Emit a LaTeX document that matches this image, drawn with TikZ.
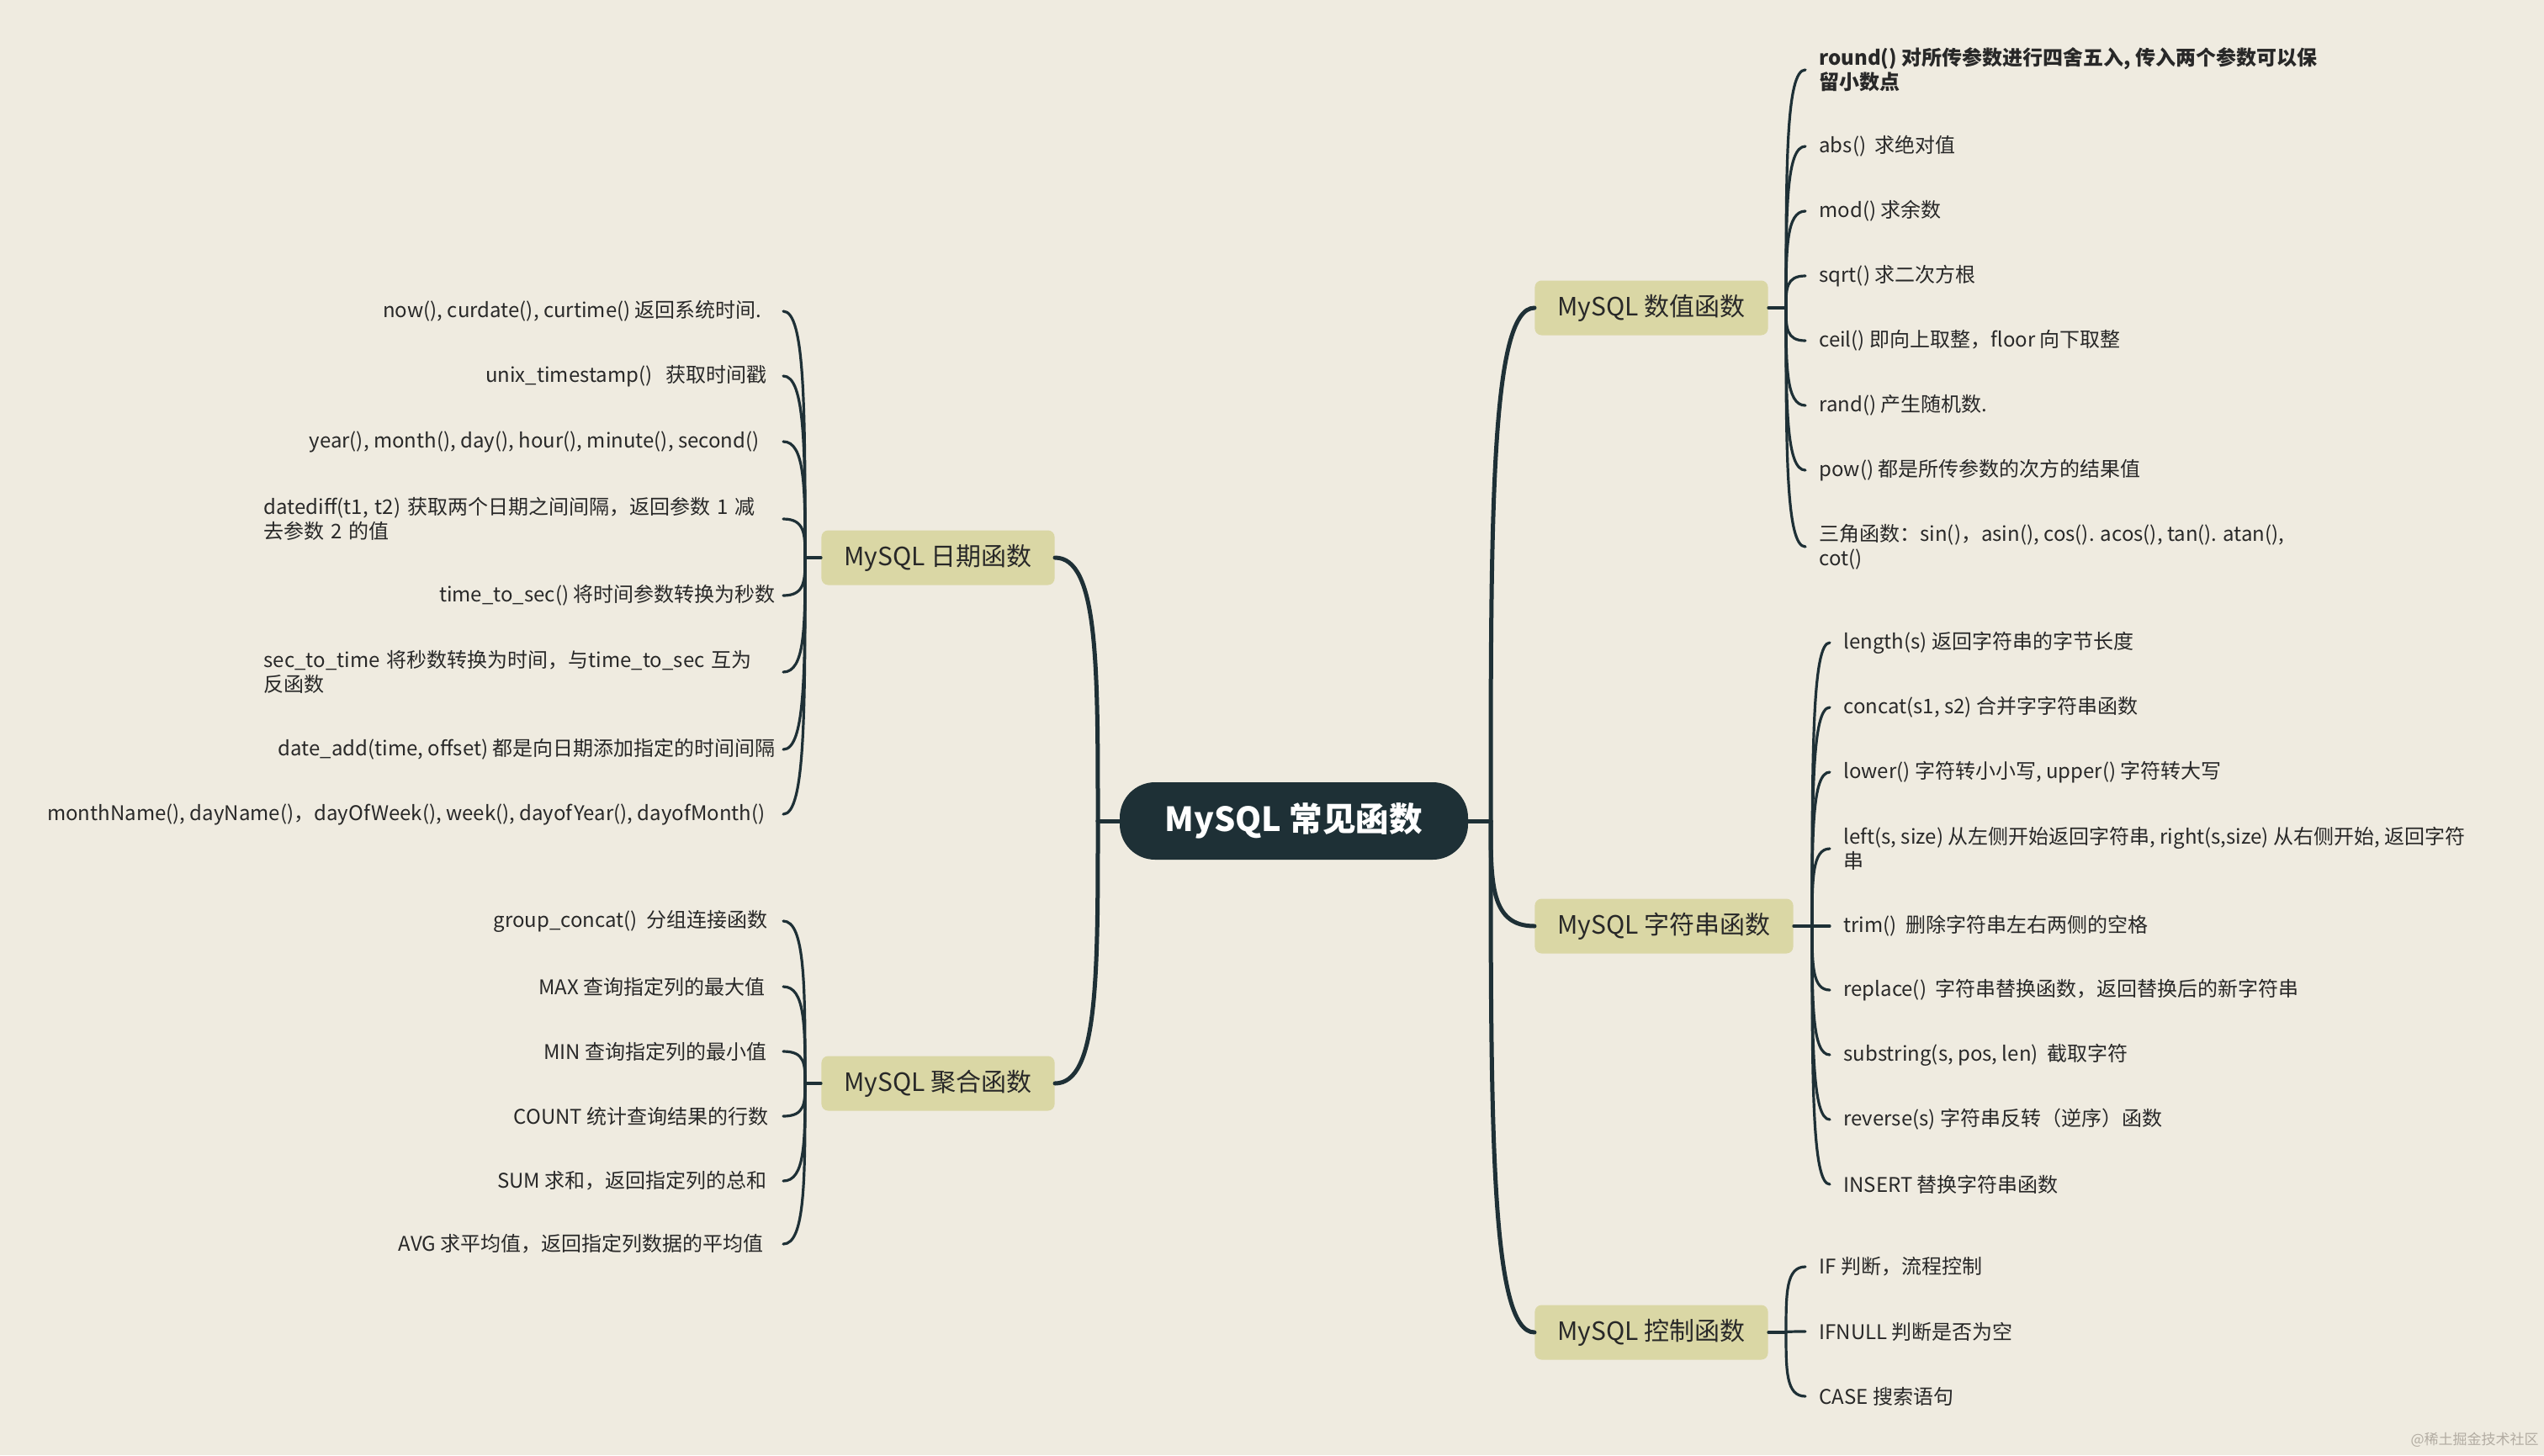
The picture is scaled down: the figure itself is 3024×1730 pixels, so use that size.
\documentclass[tikz,border=0pt]{standalone}
\usepackage{fontspec}
\setmainfont{Noto Sans CJK SC}
\usetikzlibrary{calc}
\definecolor{paper}{RGB}{239,235,224}
\definecolor{ink}{RGB}{30,48,54}
\definecolor{khaki}{RGB}{218,215,165}
\definecolor{txt}{RGB}{40,40,40}
\definecolor{wm}{RGB}{178,172,162}
\begin{document}
\begin{tikzpicture}[x=0.5pt,y=-0.5pt,
  root/.style={fill=ink, text=white, rounded corners=21pt, minimum width=207pt, minimum height=46pt, inner sep=0pt, font=\fontsize{19.8}{24}\selectfont\bfseries},
  branch/.style={fill=khaki, text=txt, rounded corners=4pt, minimum height=32.5pt, inner xsep=13.5pt, inner ysep=0pt, font=\fontsize{15}{18}\selectfont},
  leafR/.style={anchor=west, inner xsep=8pt, inner ysep=1pt, align=left, text=txt, font=\fontsize{12}{14.5}\selectfont},
  leafRb/.style={leafR, font=\fontsize{12}{14.5}\selectfont\bfseries},
  leafL/.style={anchor=east, inner xsep=4.5pt, inner ysep=1pt, align=left, text=txt, font=\fontsize{12}{14.5}\selectfont},
  mainline/.style={draw=ink, line width=2.5pt, line cap=round},
  leafline/.style={draw=ink, line width=1.6pt, line cap=round},
  mmcurve/.style={to path={.. controls ($(\tikztostart)!0.6!(\tikztostart |- \tikztotarget)$) and (\tikztostart |- \tikztotarget) .. (\tikztotarget)}}
]
\fill[paper] (0,0) rectangle (3024,1730);
\useasboundingbox (0,0) rectangle (3024,1730);

% root and branches
\node[root] (root) at (1538,976) {MySQL 常见函数};
\node[branch, anchor=west] (num) at (1824,366) {MySQL 数值函数};
\node[branch, anchor=west] (str) at (1824,1101) {MySQL 字符串函数};
\node[branch, anchor=west] (ctl) at (1824,1584) {MySQL 控制函数};
\node[branch, anchor=east] (dat) at (1254,663) {MySQL 日期函数};
\node[branch, anchor=east] (agg) at (1254,1288) {MySQL 聚合函数};

% forks
\coordinate (fR) at (1772,976);
\coordinate (fL) at (1305,976);
\coordinate (fN) at (2123,366);
\coordinate (fS) at (2154,1101);
\coordinate (fC) at (2123,1584);
\coordinate (fD) at (957,663);
\coordinate (fA) at (957,1288);

% numeric leaves
\node[leafRb] (n1) at (2146,83) {round() 对所传参数进行四舍五入, 传入两个参数可以保\\留小数点};
\node[leafR] (n2) at (2146,174) {abs()\ \ 求绝对值};
\node[leafR] (n3) at (2146,251) {mod() 求余数};
\node[leafR] (n4) at (2146,328) {sqrt() 求二次方根};
\node[leafR] (n5) at (2146,405) {ceil() 即向上取整，floor 向下取整};
\node[leafR] (n6) at (2146,482) {rand() 产生随机数.};
\node[leafR] (n7) at (2146,559) {pow() 都是所传参数的次方的结果值};
\node[leafR] (n8) at (2146,650) {三角函数：sin()，asin(), cos(). acos(), tan(). atan(),\\cot()};

% string leaves
\node[leafR] (s1) at (2175,764) {length(s) 返回字符串的字节长度};
\node[leafR] (s2) at (2175,841) {concat(s1, s2) 合并字字符串函数};
\node[leafR] (s3) at (2175,918) {lower() 字符转小小写, upper() 字符转大写};
\node[leafR] (s4) at (2175,1009) {left(s, size) 从左侧开始返回字符串, right(s,size) 从右侧开始, 返回字符\\串};
\node[leafR] (s5) at (2175,1101) {trim()\ \ 删除字符串左右两侧的空格};
\node[leafR] (s6) at (2175,1177) {replace()\ \ 字符串替换函数，返回替换后的新字符串};
\node[leafR] (s7) at (2175,1254) {substring(s, pos, len)\ \ 截取字符};
\node[leafR] (s8) at (2175,1331) {reverse(s) 字符串反转（逆序）函数};
\node[leafR] (s9) at (2175,1408) {INSERT 替换字符串函数};

% control leaves
\node[leafR] (c1) at (2146,1506) {IF 判断，流程控制};
\node[leafR] (c2) at (2146,1583) {IFNULL 判断是否为空};
\node[leafR] (c3) at (2146,1660) {CASE 搜索语句};

% date leaves
\node[leafL] (d1) at (931,370) {now(), curdate(), curtime() 返回系统时间.\hspace*{8pt}};
\node[leafL] (d2) at (931,447) {unix\_timestamp()\ \ \ 获取时间戳\hspace*{5pt}};
\node[leafL] (d3) at (931,525) {year(), month(), day(), hour(), minute(), second()\hspace*{9.5pt}};
\node[leafL, text width=304pt] (d4) at (931,617) {datediff(t1, t2) 获取两个日期之间间隔，返回参数 1 减\\去参数 2 的值};
\node[leafL] (d5) at (931,708) {time\_to\_sec() 将时间参数转换为秒数};
\node[leafL, text width=304pt] (d6) at (931,799) {sec\_to\_time 将秒数转换为时间，与time\_to\_sec 互为\\反函数};
\node[leafL] (d7) at (931,891) {date\_add(time, offset) 都是向日期添加指定的时间间隔};
\node[leafL] (d8) at (931,968) {monthName(), dayName()，dayOfWeek(), week(), dayofYear(), dayofMonth()\hspace*{6pt}};

% aggregate leaves
\node[leafL] (a1) at (931,1095) {group\_concat()\ \ 分组连接函数\hspace*{4.5pt}};
\node[leafL] (a2) at (931,1173) {MAX 查询指定列的最大值\hspace*{6pt}};
\node[leafL] (a3) at (931,1250) {MIN 查询指定列的最小值\hspace*{5pt}};
\node[leafL] (a4) at (931,1327) {COUNT 统计查询结果的行数\hspace*{4pt}};
\node[leafL] (a5) at (931,1404) {SUM 求和，返回指定列的总和\hspace*{5pt}};
\node[leafL] (a6) at (931,1479) {AVG 求平均值，返回指定列数据的平均值\hspace*{7pt}};

% main connectors
\draw[mainline] (root.east) -- (fR);
\draw[mainline] (root.west) -- (fL);
\foreach \b in {num,str,ctl} \draw[mainline] (fR) to[mmcurve] (\b.west);
\foreach \b in {dat,agg} \draw[mainline] (fL) to[mmcurve] (\b.east);

% leaf connectors
\draw[leafline] (num.east) -- (fN);
\foreach \l in {n1,n2,n3,n4,n5,n6,n7,n8} \draw[leafline] (fN) to[mmcurve] (\l.west);
\draw[leafline] (str.east) -- (fS);
\foreach \l in {s1,s2,s3,s4,s5,s6,s7,s8,s9} \draw[leafline] (fS) to[mmcurve] (\l.west);
\draw[leafline] (ctl.east) -- (fC);
\foreach \l in {c1,c2,c3} \draw[leafline] (fC) to[mmcurve] (\l.west);
\draw[leafline] (dat.west) -- (fD);
\foreach \l in {d1,d2,d3,d4,d5,d6,d7,d8} \draw[leafline] (fD) to[mmcurve] (\l.east);
\draw[leafline] (agg.west) -- (fA);
\foreach \l in {a1,a2,a3,a4,a5,a6} \draw[leafline] (fA) to[mmcurve] (\l.east);

% watermark
\node[anchor=east, text=wm, inner sep=0pt, font=\fontsize{8.5}{10}\selectfont] (wmk) at (3018,1712) {@稀土掘金技术社区};
\end{tikzpicture}
\end{document}
